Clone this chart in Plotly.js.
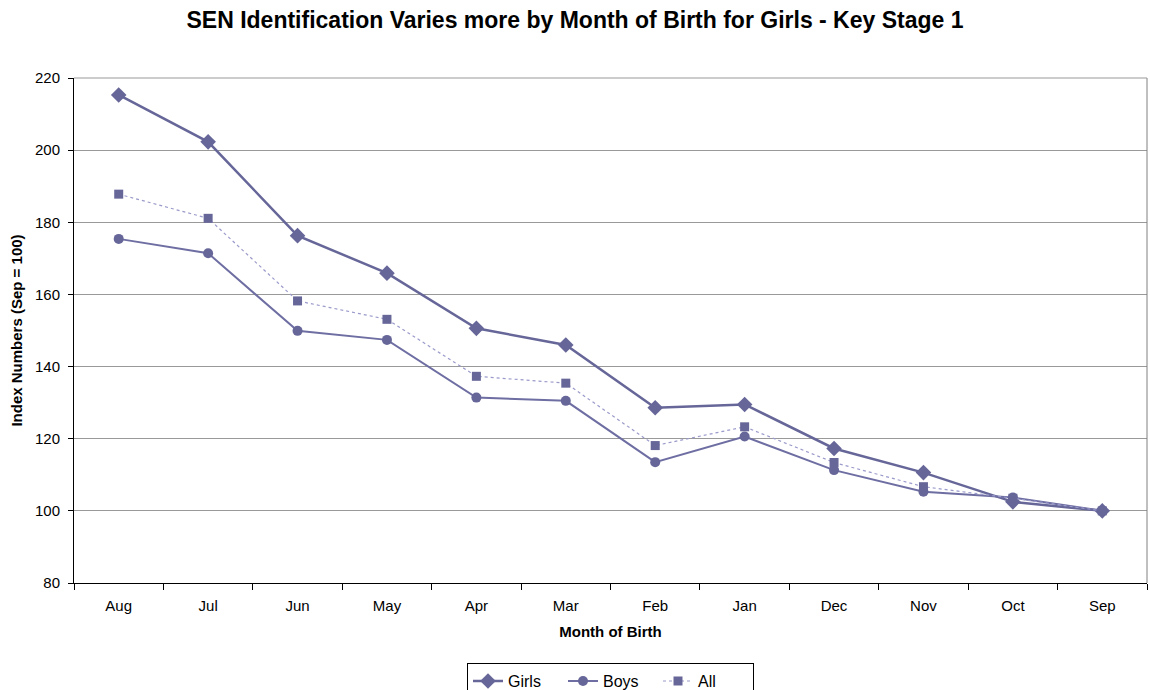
<!DOCTYPE html>
<html>
<head>
<meta charset="utf-8">
<script src="https://cdn.plot.ly/plotly-3.0.1.min.js"></script>
<style>html,body{margin:0;padding:0;background:#fff;}#chart{width:1150px;height:690px;}</style>
</head>
<body>
<div id="chart"></div>
<script>
const months = ["Aug","Jul","Jun","May","Apr","Mar","Feb","Jan","Dec","Nov","Oct","Sep"];
const girls = [215.3, 202.3, 176.3, 165.9, 150.6, 146.0, 128.6, 129.5, 117.3, 110.6, 102.5, 100];
const boys  = [175.4, 171.4, 149.9, 147.4, 131.4, 130.5, 113.5, 120.6, 111.3, 105.3, 103.7, 100];
const all   = [187.8, 181.1, 158.2, 153.1, 137.3, 135.4, 118.1, 123.3, 113.4, 106.7, 103.5, 100];

const col = "#666699";
const font = "Liberation Sans, Arial, sans-serif";

const traces = [
  {x: months, y: girls, name: "Girls", type: "scatter", mode: "lines+markers",
   line: {color: col, width: 2.5}, marker: {symbol: "diamond", size: 12, color: col}},
  {x: months, y: boys, name: "Boys", type: "scatter", mode: "lines+markers",
   line: {color: "#6e6ea3", width: 2}, marker: {symbol: "circle", size: 10, color: col}},
  {x: months, y: all, name: "All", type: "scatter", mode: "lines+markers",
   line: {color: "#9a9acb", width: 1.2, dash: "dot"}, marker: {symbol: "square", size: 9, color: col}}
];

const layout = {
  width: 1150, height: 690,
  margin: {l: 74, r: 3, t: 78, b: 107, autoexpand: false},
  paper_bgcolor: "#fff", plot_bgcolor: "#fff",
  font: {family: font, size: 15, color: "#000"},
  title: {text: "<b>SEN Identification Varies more by Month of Birth for Girls - Key Stage 1</b>",
          font: {family: font, size: 23, color: "#000"}, x: 0.5, xanchor: "center",
          yref: "container", y: 0.971, yanchor: "middle"},
  xaxis: {type: "category", categoryorder: "array", categoryarray: months, range: [-0.5, 11.5],
          tickson: "boundaries", ticks: "outside", ticklen: 6, tickcolor: "#000",
          showline: true, linecolor: "#000", linewidth: 1, showgrid: false, zeroline: false,
          ticklabelstandoff: 9,
          tickfont: {family: font, size: 15, color: "#000"},
          title: {text: "<b>Month of Birth</b>", font: {family: font, size: 15, color: "#000"}, standoff: 13}},
  yaxis: {range: [80, 220], dtick: 20, tick0: 80, ticks: "outside", ticklen: 5, tickcolor: "#000",
          showline: true, linecolor: "#000", linewidth: 1, showgrid: true, gridcolor: "#999", gridwidth: 1,
          zeroline: false, ticklabelstandoff: 5, tickfont: {family: font, size: 15, color: "#000"},
          title: {text: "<b>Index Numbers (Sep = 100)</b>", font: {family: font, size: 15, color: "#000"}, standoff: 8}},
  shapes: [
    {type: "line", xref: "paper", yref: "paper", x0: 1, x1: 1, y0: 0, y1: 1, line: {color: "#808080", width: 1}},
    {type: "line", xref: "paper", yref: "paper", x0: 0, x1: 1, y0: 1, y1: 1, line: {color: "#999", width: 1}}
  ],
  legend: {orientation: "h", x: 0.5, xanchor: "center", yref: "container", y: 0.039, yanchor: "top",
           bordercolor: "#000", borderwidth: 1, bgcolor: "#fff",
           font: {family: font, size: 16, color: "#000"}, itemwidth: 30, tracegroupgap: 0,
           entrywidth: 50, entrywidthmode: "pixels"},
  showlegend: true
};

Plotly.newPlot("chart", traces, layout, {displayModeBar: false, staticPlot: true});
</script>
</body>
</html>
